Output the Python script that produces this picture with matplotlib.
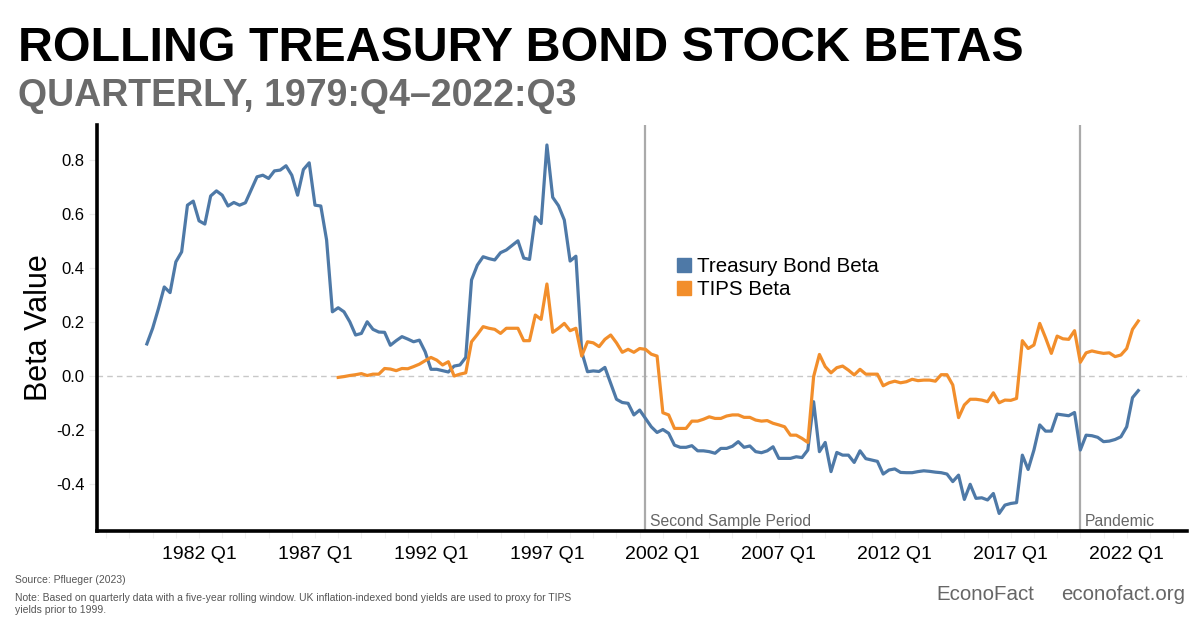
import numpy as np
import pandas as pd
import matplotlib
matplotlib.use("Agg")
import matplotlib.pyplot as plt
from matplotlib.lines import Line2D

plt.rcParams['font.family'] = ['Liberation Sans', 'DejaVu Sans']

# quarterly rolling betas, 1979Q4 - 2022Q3
quarters = pd.period_range('1979Q4', '2022Q3', freq='Q')
treasury_beta = [
    0.119, 0.177, 0.25, 0.33, 0.309, 0.423, 0.46, 0.633, 0.648, 0.575,
    0.563, 0.667, 0.686, 0.67, 0.63, 0.643, 0.633, 0.642, 0.69, 0.738,
    0.744, 0.732, 0.76, 0.763, 0.779, 0.744, 0.67, 0.765, 0.79, 0.633,
    0.63, 0.504, 0.238, 0.253, 0.238, 0.201, 0.152, 0.158, 0.201, 0.173,
    0.163, 0.162, 0.114, 0.131, 0.146, 0.137, 0.127, 0.133, 0.09, 0.025,
    0.025, 0.02, 0.015, 0.037, 0.041, 0.069, 0.356, 0.411, 0.442, 0.435,
    0.43, 0.457, 0.467, 0.484, 0.501, 0.437, 0.432, 0.59, 0.565, 0.856,
    0.662, 0.631, 0.578, 0.426, 0.444, 0.09, 0.016, 0.019, 0.017, 0.032,
    -0.027, -0.086, -0.098, -0.101, -0.144, -0.126, -0.157, -0.188, -0.209, -0.198,
    -0.212, -0.256, -0.264, -0.264, -0.258, -0.277, -0.277, -0.28, -0.286, -0.268,
    -0.268, -0.26, -0.243, -0.264, -0.259, -0.28, -0.284, -0.277, -0.262, -0.305,
    -0.305, -0.305, -0.299, -0.302, -0.274, -0.095, -0.28, -0.246, -0.354, -0.283,
    -0.293, -0.293, -0.32, -0.277, -0.306, -0.311, -0.316, -0.363, -0.348, -0.344,
    -0.357, -0.358, -0.358, -0.354, -0.351, -0.353, -0.356, -0.358, -0.363, -0.391,
    -0.367, -0.457, -0.401, -0.453, -0.451, -0.459, -0.435, -0.509, -0.478, -0.472,
    -0.469, -0.293, -0.346, -0.274, -0.181, -0.204, -0.204, -0.141, -0.144, -0.147,
    -0.135, -0.274, -0.219, -0.221, -0.227, -0.243, -0.241, -0.235, -0.225, -0.188,
    -0.08, -0.054,
]

# TIPS beta starts in 1988Q1
tips_quarters = pd.period_range('1988Q1', '2022Q3', freq='Q')
tips_beta = [
    -0.005, -0.002, 0.002, 0.005, 0.009, 0.002, 0.007, 0.007, 0.028, 0.026,
    0.02, 0.028, 0.027, 0.035, 0.044, 0.057, 0.069, 0.059, 0.041, 0.053,
    0.0, 0.007, 0.012, 0.127, 0.154, 0.183, 0.177, 0.173, 0.158, 0.177,
    0.177, 0.177, 0.131, 0.131, 0.226, 0.21, 0.341, 0.162, 0.177, 0.195,
    0.168, 0.177, 0.074, 0.127, 0.123, 0.109, 0.136, 0.152, 0.123, 0.088,
    0.099, 0.088, 0.102, 0.099, 0.081, 0.074, -0.136, -0.144, -0.194, -0.194,
    -0.194, -0.167, -0.167, -0.16, -0.151, -0.157, -0.157, -0.148, -0.144, -0.144,
    -0.153, -0.153, -0.163, -0.167, -0.165, -0.175, -0.181, -0.188, -0.219, -0.219,
    -0.231, -0.246, -0.002, 0.08, 0.035, 0.012, 0.031, 0.037, 0.022, 0.004,
    0.025, 0.007, 0.007, 0.007, -0.036, -0.025, -0.019, -0.025, -0.021, -0.012,
    -0.017, -0.015, -0.015, -0.019, 0.005, 0.005, -0.033, -0.154, -0.107, -0.086,
    -0.086, -0.089, -0.095, -0.062, -0.099, -0.089, -0.09, -0.083, 0.131, 0.102,
    0.115, 0.195, 0.142, 0.084, 0.148, 0.138, 0.136, 0.168, 0.051, 0.086,
    0.093, 0.088, 0.084, 0.086, 0.072, 0.078, 0.102, 0.173, 0.204,
]

tick_years = [1982, 1987, 1992, 1997, 2002, 2007, 2012, 2017, 2022]
tick_labels = [f'{y} Q1' for y in tick_years]
events = [('2001Q2', 'Second Sample Period'), ('2020Q1', 'Pandemic')]


def to_year(p):
    return p.year + (p.quarter - 1) / 4.0


x_tb = to_year(quarters)
x_tips = to_year(tips_quarters)

blue = '#4e79a7'
orange = '#f28e2b'

fig = plt.figure(figsize=(12, 6.3), dpi=100)
ax = fig.add_axes([97 / 1200, 1 - 531 / 630, 1090 / 1200, 406 / 630])

ax.axhline(0, color='#c8c8c8', lw=1, ls=(0, (4, 3)), zorder=1)
for q, lab in events:
    xv = to_year(pd.Period(q, freq='Q'))
    ax.axvline(xv, color='#aaaaaa', lw=1.6, zorder=2)
    ax.text(xv + 0.2, -0.555, lab, fontsize=11.3, color='#666666',
            ha='left', va='baseline')

ax.plot(x_tb, treasury_beta, color=blue, lw=2.3, zorder=3)
ax.plot(x_tips, tips_beta, color=orange, lw=2.3, zorder=3)

ax.set_xlim(1977.6, 2024.6)
ax.set_ylim(-0.574, 0.93)
ax.set_xticks(tick_years)
ax.set_xticklabels(tick_labels, fontsize=14)
ax.set_xticks(np.arange(1978, 2025), minor=True)
ax.set_yticks([-0.4, -0.2, 0.0, 0.2, 0.4, 0.6, 0.8])
ax.set_yticklabels(['-0.4', '-0.2', '0.0', '0.2', '0.4', '0.6', '0.8'], fontsize=12)
ax.tick_params(axis='x', which='both', color='#f0f0f0', length=5, width=0.8, pad=6)
ax.tick_params(axis='y', color='#ebebeb', length=6, width=0.8, pad=3)

for s in ['top', 'right']:
    ax.spines[s].set_visible(False)
for s in ['left', 'bottom']:
    ax.spines[s].set_linewidth(2.6)
    ax.spines[s].set_color('black')

ax.set_ylabel('Beta Value', fontsize=22)
ax.yaxis.set_label_coords(-0.039, 0.5)

handles = [Line2D([], [], marker='s', ls='', color=blue, markersize=10.5),
           Line2D([], [], marker='s', ls='', color=orange, markersize=10.5)]
fig.legend(handles, ['Treasury Bond Beta', 'TIPS Beta'], loc='upper left',
           bbox_to_anchor=(668 / 1200, 1 - 249 / 630), frameon=False,
           fontsize=14.8, handlelength=0.8, handletextpad=0.2,
           labelspacing=0.2, borderaxespad=0)

fig.text(18 / 1200, 1 - 61 / 630, 'ROLLING TREASURY BOND STOCK BETAS',
         fontsize=34.8, fontweight='bold', color='black', va='baseline')
fig.text(18 / 1200, 1 - 106 / 630, 'QUARTERLY, 1979:Q4\u20132022:Q3',
         fontsize=27, fontweight='bold', color='#6b6b6b', va='baseline')

fig.text(15 / 1200, 1 - 580 / 630, 'Source: Pflueger (2023)',
         fontsize=7.5, color='#555555', va='center')
fig.text(15 / 1200, 1 - 604 / 630,
         'Note: Based on quarterly data with a five-year rolling window. UK inflation-indexed bond yields are used to proxy for TIPS\nyields prior to 1999.',
         fontsize=7.5, color='#555555', va='center', linespacing=1.25)
fig.text(936 / 1200, 1 - 595 / 630, 'EconoFact', fontsize=14.8,
         color='#666666', va='center')
fig.text(1185 / 1200, 1 - 595 / 630, 'econofact.org', fontsize=14.8,
         color='#666666', va='center', ha='right')

fig.savefig('out.png', dpi=100)
